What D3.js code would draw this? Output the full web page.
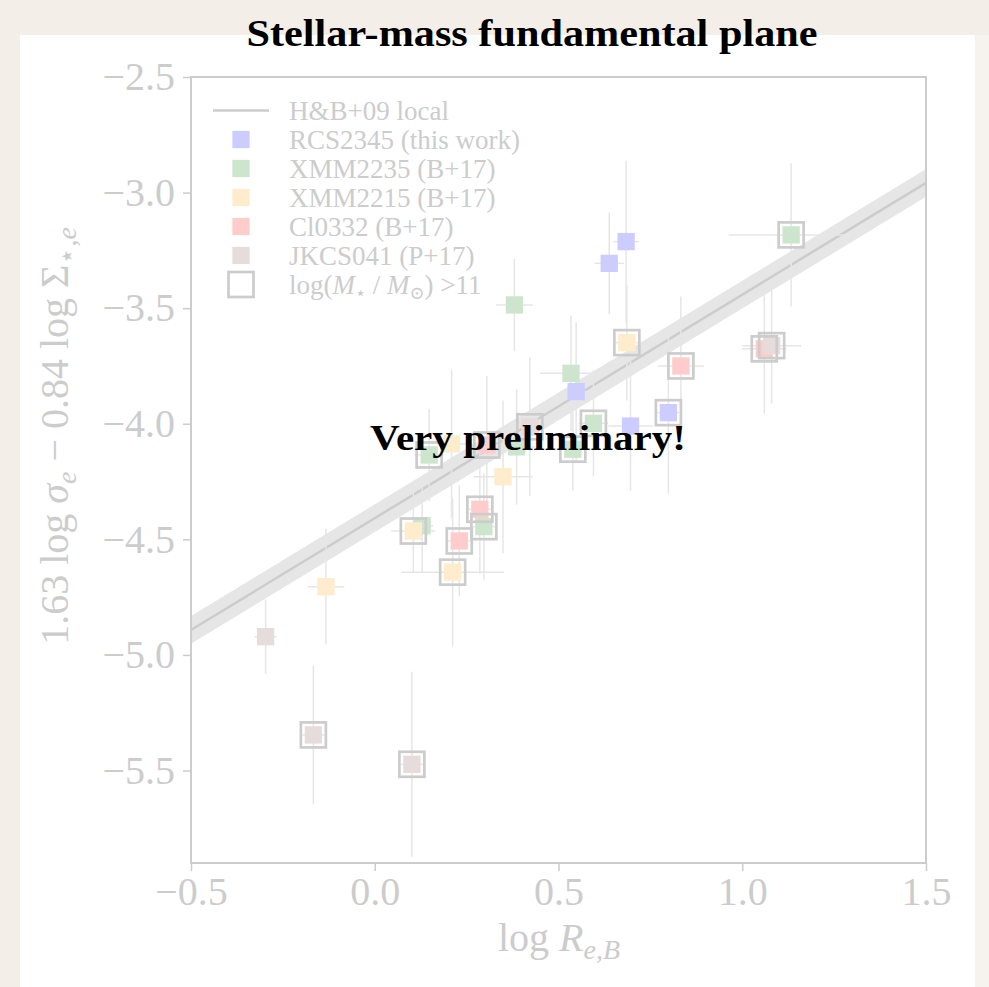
<!DOCTYPE html>
<html>
<head>
<meta charset="utf-8">
<script src="https://cdn.jsdelivr.net/npm/d3@7"></script>
<style>
  body { margin: 0; background: #f3eee7; }
  svg { display: block; }
</style>
</head>
<body>
<div id="chart"></div>
<script>
  // fit line from H&B+09 (endpoints read at the axis edges)
  const hbX = [-0.5, 1.5];
  const hbY = [-4.892, -2.958];
  const hbScatter = 0.06;

  // [log Re, FP value, x error, y error, massive?]
  const rcs2345 = [
    [0.684, -3.212, 0.035, 0.35, 0],
    [0.638, -3.306, 0.04, 0.22, 0],
    [0.548, -3.861, 0.03, 0.30, 0],
    [0.696, -4.010, 0.06, 0.28, 0],
    [0.799, -3.952, 0.03, 0.35, 1]
  ];
  const xmm2235 = [
    [1.133, -3.183, 0.17, 0.31, 1],
    [0.380, -3.486, 0.05, 0.20, 0],
    [0.534, -3.782, 0.085, 0.25, 0],
    [0.595, -3.998, 0.04, 0.23, 1],
    [0.539, -4.110, 0.05, 0.18, 1],
    [0.386, -4.100, 0.05, 0.25, 0],
    [0.148, -4.135, 0.04, 0.20, 1],
    [0.129, -4.441, 0.03, 0.20, 0],
    [0.297, -4.445, 0.03, 0.23, 1]
  ];
  const xmm2215 = [
    [0.686, -3.649, 0.03, 0.25, 1],
    [0.209, -4.087, 0.04, 0.32, 0],
    [0.349, -4.229, 0.08, 0.33, 0],
    [0.105, -4.464, 0.06, 0.18, 1],
    [0.212, -4.642, 0.14, 0.32, 1],
    [-0.133, -4.705, 0.05, 0.25, 0]
  ];
  const cl0332 = [
    [0.833, -3.750, 0.063, 0.30, 1],
    [1.060, -3.676, 0.06, 0.28, 1],
    [0.305, -4.092, 0.04, 0.30, 1],
    [0.286, -4.370, 0.03, 0.28, 1],
    [0.230, -4.507, 0.03, 0.24, 1]
  ];
  const jkcs041 = [
    [1.080, -3.662, 0.08, 0.25, 1],
    [0.422, -4.013, 0.04, 0.30, 1],
    [-0.297, -4.921, 0.03, 0.16, 0],
    [-0.167, -5.346, 0.03, 0.30, 1],
    [0.101, -5.473, 0.03, 0.40, 1]
  ];

  const seriesNames = ["RCS2345 (this work)", "XMM2235 (B+17)", "XMM2215 (B+17)", "Cl0332 (B+17)", "JKCS041 (P+17)"];
  const seriesData = [rcs2345, xmm2235, xmm2215, cl0332, jkcs041];
  const seriesColors = ["#ccccff", "#cde5cd", "#ffeccc", "#ffcccc", "#e6dcdb"];

  const xTicks = [-0.5, 0.0, 0.5, 1.0, 1.5];
  const yTicks = [-5.5, -5.0, -4.5, -4.0, -3.5, -3.0, -2.5];

  const W = 989, H = 987;
  const grey = "#cccccc";
  const serif = "'Liberation Serif', 'DejaVu Serif', serif";

  const svg = d3.select("#chart")
    .append("svg")
    .attr("width", W)
    .attr("height", H);

  // paper background + white panel
  svg.append("rect").attr("width", W).attr("height", H).attr("fill", "#f3eee7");
  svg.append("rect").attr("x", 975).attr("y", 35).attr("width", 14).attr("height", H - 35).attr("fill", "#f6f2ed");
  svg.append("rect").attr("x", 20).attr("y", 35).attr("width", 955).attr("height", H - 35).attr("fill", "#ffffff");

  const x = d3.scaleLinear().domain([-0.5, 1.5]).range([191, 926]);
  const y = d3.scaleLinear().domain([-5.9, -2.5]).range([863, 77]);

  // H&B+09 band and line
  const band = hbX.map((v, i) => ({ x: v, y: hbY[i] }));
  svg.append("path")
    .datum(band)
    .attr("fill", "#e6e6e6")
    .attr("d", d3.area().x(d => x(d.x)).y0(d => y(d.y - hbScatter)).y1(d => y(d.y + hbScatter)));
  svg.append("path")
    .datum(band)
    .attr("fill", "none")
    .attr("stroke", grey)
    .attr("stroke-width", 2.5)
    .attr("d", d3.line().x(d => x(d.x)).y(d => y(d.y)));

  // points
  const pts = [];
  seriesData.forEach((arr, si) => arr.forEach(p => pts.push({ s: si, x: p[0], y: p[1], xe: p[2], ye: p[3], big: p[4] })));

  const eb = svg.append("g").attr("stroke", "#e6e6e6").attr("stroke-width", 1.5);
  eb.selectAll(".xe").data(pts).enter().append("line")
    .attr("x1", d => x(d.x - d.xe)).attr("x2", d => x(d.x + d.xe))
    .attr("y1", d => y(d.y)).attr("y2", d => y(d.y));
  eb.selectAll(".ye").data(pts).enter().append("line")
    .attr("x1", d => x(d.x)).attr("x2", d => x(d.x))
    .attr("y1", d => y(d.y - d.ye)).attr("y2", d => y(d.y + d.ye));

  const sq = 17.3;
  svg.append("g").selectAll("rect").data(pts).enter().append("rect")
    .attr("x", d => x(d.x) - sq / 2)
    .attr("y", d => y(d.y) - sq / 2)
    .attr("width", sq).attr("height", sq)
    .attr("fill", d => seriesColors[d.s]);

  const bx = 25;
  svg.append("g").selectAll("rect").data(pts.filter(d => d.big)).enter().append("rect")
    .attr("x", d => x(d.x) - bx / 2)
    .attr("y", d => y(d.y) - bx / 2)
    .attr("width", bx).attr("height", bx)
    .attr("fill", "none")
    .attr("stroke", grey)
    .attr("stroke-width", 2.7);

  // axes
  const fmt = d3.format(".1f");
  const yAxis = svg.append("g")
    .attr("transform", "translate(191,0)")
    .call(d3.axisLeft(y).tickValues(yTicks).tickFormat(fmt).tickSize(8).tickPadding(8));
  const xAxis = svg.append("g")
    .attr("transform", "translate(0,863)")
    .call(d3.axisBottom(x).tickValues(xTicks).tickFormat(fmt).tickSize(8).tickPadding(6));
  [xAxis, yAxis].forEach(g => {
    g.select(".domain").remove();
    g.selectAll(".tick line").attr("stroke", grey).attr("stroke-width", 1.5);
    g.selectAll(".tick text").attr("fill", grey).style("font-family", serif).style("font-size", "40px");
  });
  svg.append("rect")
    .attr("x", 191).attr("y", 77).attr("width", 735).attr("height", 786)
    .attr("fill", "none").attr("stroke", grey).attr("stroke-width", 2);

  // axis labels
  const xl = svg.append("text")
    .attr("x", 559).attr("y", 951)
    .attr("text-anchor", "middle")
    .attr("fill", grey)
    .style("font-family", serif).style("font-size", "40px");
  xl.append("tspan").text("log ");
  xl.append("tspan").attr("font-style", "italic").text("R");
  xl.append("tspan").attr("font-style", "italic").attr("font-size", "28px").attr("dy", 8).text("e,B");

  const yl = svg.append("text")
    .attr("transform", "translate(68,436) rotate(-90)")
    .attr("text-anchor", "middle")
    .attr("fill", grey)
    .style("font-family", serif).style("font-size", "40px");
  yl.append("tspan").text("1.63 log ");
  yl.append("tspan").attr("font-style", "italic").text("σ");
  yl.append("tspan").attr("font-style", "italic").attr("font-size", "28px").attr("dy", 8).text("e");
  yl.append("tspan").attr("dy", -8).text(" − 0.84 log Σ");
  yl.append("tspan").attr("font-size", "28px").attr("dy", 8).text("⋆,");
  yl.append("tspan").attr("font-style", "italic").attr("font-size", "28px").text("e");

  // legend
  const lg = svg.append("g").style("font-family", serif).style("font-size", "27px");
  const rowY = i => 110.5 + i * 29;
  lg.append("line").attr("x1", 213).attr("x2", 269).attr("y1", rowY(0)).attr("y2", rowY(0))
    .attr("stroke", grey).attr("stroke-width", 2.5);
  lg.append("text").attr("x", 289).attr("y", rowY(0)).attr("dy", "0.35em").attr("fill", grey).text("H&B+09 local");
  seriesNames.forEach((n, i) => {
    lg.append("rect").attr("x", 241 - sq / 2).attr("y", rowY(i + 1) - sq / 2)
      .attr("width", sq).attr("height", sq).attr("fill", seriesColors[i]);
    lg.append("text").attr("x", 289).attr("y", rowY(i + 1)).attr("dy", "0.35em").attr("fill", grey).text(n);
  });
  lg.append("rect").attr("x", 241 - bx / 2).attr("y", rowY(6) - bx / 2)
    .attr("width", bx).attr("height", bx).attr("fill", "none").attr("stroke", grey).attr("stroke-width", 2.7);
  const mt = lg.append("text").attr("x", 289).attr("y", rowY(6)).attr("dy", "0.35em").attr("fill", grey);
  mt.append("tspan").text("log(");
  mt.append("tspan").attr("font-style", "italic").text("M");
  mt.append("tspan").attr("font-size", "18px").attr("dy", 5).text("⋆");
  mt.append("tspan").attr("dy", -5).text(" / ");
  mt.append("tspan").attr("font-style", "italic").text("M");
  mt.append("tspan").attr("font-size", "18px").attr("dy", 5).text("⊙");
  mt.append("tspan").attr("dy", -5).text(") >11");

  // title and stamp
  svg.append("text")
    .attr("x", 532).attr("y", 46)
    .attr("text-anchor", "middle")
    .attr("font-weight", "bold")
    .attr("fill", "#000")
    .attr("textLength", 571).attr("lengthAdjust", "spacingAndGlyphs")
    .style("font-family", serif).style("font-size", "38px")
    .text("Stellar-mass fundamental plane");

  svg.append("text")
    .attr("x", 528).attr("y", 450)
    .attr("text-anchor", "middle")
    .attr("font-weight", "bold")
    .attr("fill", "#000")
    .attr("textLength", 316).attr("lengthAdjust", "spacingAndGlyphs")
    .style("font-family", serif).style("font-size", "35px")
    .text("Very preliminary!");
</script>
</body>
</html>
